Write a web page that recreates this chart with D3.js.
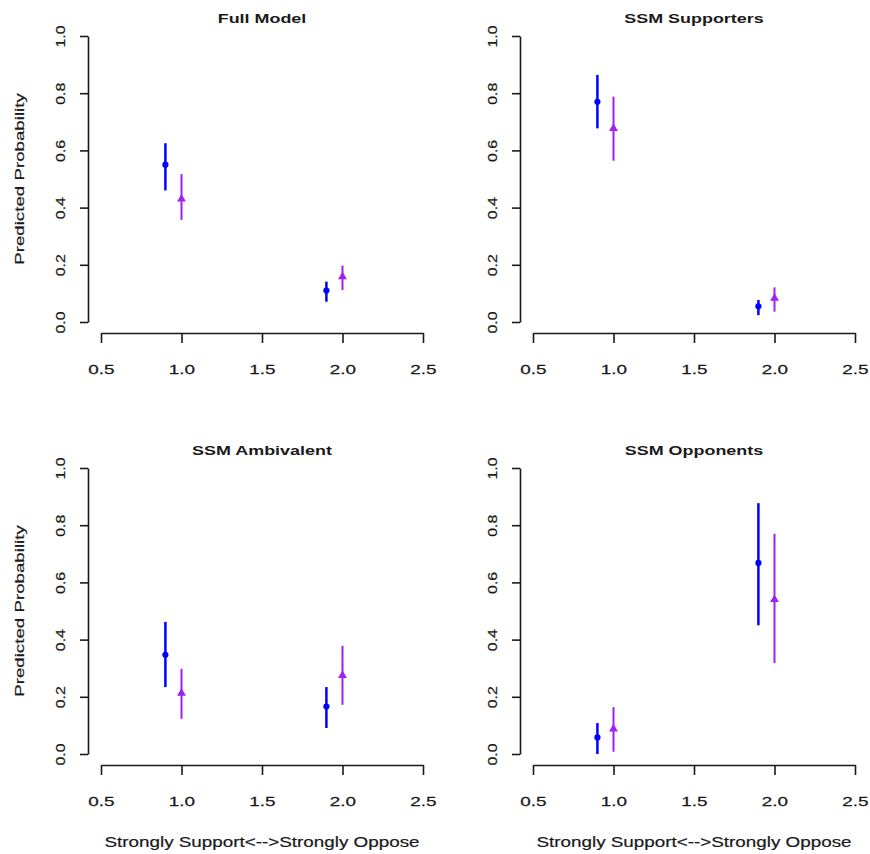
<!DOCTYPE html>
<html lang="en">
<head>
<meta charset="UTF-8" />
<title>Predicted Probability by Group</title>
<script src="https://d3js.org/d3.v7.min.js"></script>
<style>
  body { margin: 0; background: #fff; }
  svg { display: block; font-family: "Liberation Sans", Arial, sans-serif; }
  .axis path, .axis line { stroke: #1a1a1a; stroke-width: 1.6px; }
  .axis text { fill: #1a1a1a; font-size: 13.5px; stroke: #1a1a1a; stroke-width: 0.25px; }
  .title { font-size: 13px; font-weight: bold; fill: #1a1a1a; }
  .lab { font-size: 13px; fill: #1a1a1a; stroke: #1a1a1a; stroke-width: 0.2px; }
</style>
</head>
<body>
<div id="chart"></div>
<script>
// panel titles, in reading order
const panels = ["Full Model", "SSM Supporters", "SSM Ambivalent", "SSM Opponents"];

// x positions of the two series (dodged around 1 and 2)
const xBlue = [0.9, 1.9];
const xPurple = [1.0, 2.0];

// estimates and interval ends, one row per panel
const bluePoint = [[0.55, 0.11], [0.77, 0.055], [0.347, 0.166], [0.058, 0.668]];
const blueLow   = [[0.46, 0.071], [0.677, 0.024], [0.234, 0.091], [0.0, 0.45]];
const blueHigh  = [[0.625, 0.141], [0.864, 0.077], [0.462, 0.234], [0.108, 0.877]];

const purplePoint = [[0.43, 0.158], [0.677, 0.083], [0.213, 0.275], [0.088, 0.54]];
const purpleLow   = [[0.357, 0.112], [0.564, 0.036], [0.123, 0.172], [0.008, 0.318]];
const purpleHigh  = [[0.517, 0.197], [0.788, 0.121], [0.298, 0.378], [0.164, 0.77]];

const xTicks = [0.5, 1.0, 1.5, 2.0, 2.5];
const yTicks = [0, 0.2, 0.4, 0.6, 0.8, 1.0];

const W = 870, H = 854, step = 432;

const svg = d3.select("#chart").append("svg")
  .attr("width", W).attr("height", H);

const x = d3.scaleLinear().domain([0.5, 2.5]).range([101, 423]);
const y = d3.scaleLinear().domain([0, 1]).range([322, 36]);
const fmt = d3.format(".1f");

const series = [
  { xs: xBlue, pt: bluePoint, lo: blueLow, hi: blueHigh, color: "#0000FF", lw: 2.5, shape: d3.symbolCircle, size: 30 },
  { xs: xPurple, pt: purplePoint, lo: purpleLow, hi: purpleHigh, color: "#A020F0", lw: 2, shape: d3.symbolTriangle, size: 34 }
];

panels.forEach((name, p) => {
  const col = p % 2, row = Math.floor(p / 2);
  const g = svg.append("g").attr("transform", `translate(${col * step},${row * step})`);

  // x axis, detached below the plot region
  const gx = g.append("g").attr("class", "axis")
    .attr("transform", "translate(0,333)")
    .call(d3.axisBottom(x).tickValues(xTicks).tickSize(10).tickSizeOuter(0).tickFormat(fmt));
  gx.selectAll("text")
    .attr("y", 0).attr("dy", null)
    .attr("transform", "translate(0,41) scale(1.4,1)");

  // y axis, labels rotated like base R
  const gy = g.append("g").attr("class", "axis")
    .attr("transform", "translate(88,0)")
    .call(d3.axisLeft(y).tickValues(yTicks).tickSize(8).tickSizeOuter(0).tickFormat(fmt));
  gy.selectAll("text")
    .attr("x", 0).attr("dy", null)
    .attr("text-anchor", "middle")
    .attr("transform", "translate(-23,0) rotate(-90) scale(1.18,1)");

  g.append("text").attr("class", "title")
    .attr("text-anchor", "middle")
    .attr("transform", `translate(${(x.range()[0] + x.range()[1]) / 2},23) scale(1.38,1)`)
    .text(name);

  if (col === 0) {
    g.append("text").attr("class", "lab")
      .attr("text-anchor", "middle")
      .attr("transform", `translate(24,${(y.range()[0] + y.range()[1]) / 2}) rotate(-90) scale(1.44,1)`)
      .text("Predicted Probability");
  }
  if (row === 1) {
    g.append("text").attr("class", "lab")
      .attr("text-anchor", "middle")
      .attr("transform", `translate(${(x.range()[0] + x.range()[1]) / 2},415) scale(1.3,1)`)
      .style("font-size", "14.5px")
      .text("Strongly Support<-->Strongly Oppose");
  }

  series.forEach(s => {
    s.xs.forEach((xv, i) => {
      g.append("line")
        .attr("x1", x(xv)).attr("x2", x(xv))
        .attr("y1", y(s.lo[p][i])).attr("y2", y(s.hi[p][i]))
        .attr("stroke", s.color).attr("stroke-width", s.lw);
      g.append("path")
        .attr("d", d3.symbol().type(s.shape).size(s.size)())
        .attr("transform", `translate(${x(xv)},${y(s.pt[p][i])})`)
        .attr("fill", s.color);
    });
  });
});
</script>
</body>
</html>
